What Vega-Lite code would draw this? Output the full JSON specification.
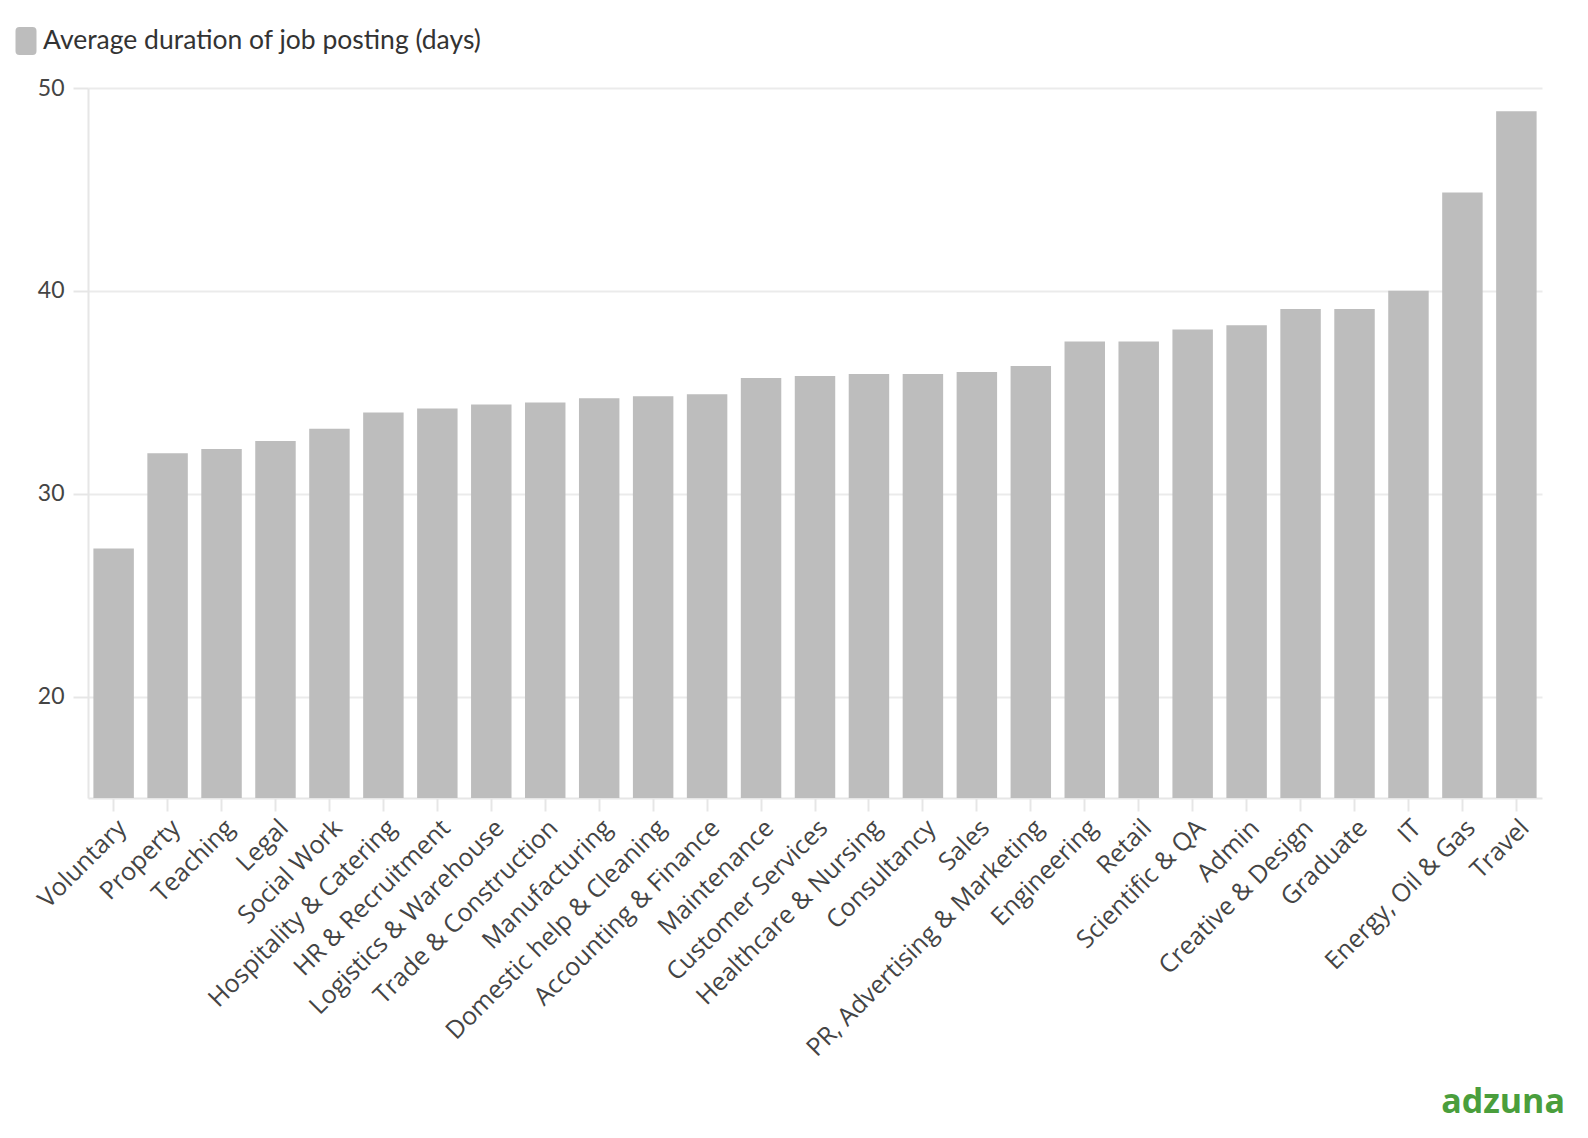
{
  "$schema": "https://vega.github.io/schema/vega-lite/v6.json",
  "autosize": {"type": "none"},
  "width": 1454,
  "height": 710,
  "padding": {"left": 88, "top": 88, "right": 46, "bottom": 340},
  "background": "#ffffff",
  "title": {
    "text": "adzuna",
    "orient": "bottom",
    "anchor": "end",
    "font": "Open Sans",
    "fontSize": 34,
    "fontWeight": "bold",
    "color": "#4a9e3c",
    "offset": 25,
    "dx": 23
  },
  "data": {
    "values": [
      {"category": "Voluntary", "days": 27.3},
      {"category": "Property", "days": 32.0},
      {"category": "Teaching", "days": 32.2},
      {"category": "Legal", "days": 32.6},
      {"category": "Social Work", "days": 33.2},
      {"category": "Hospitality & Catering", "days": 34.0},
      {"category": "HR & Recruitment", "days": 34.2},
      {"category": "Logistics & Warehouse", "days": 34.4},
      {"category": "Trade & Construction", "days": 34.5},
      {"category": "Manufacturing", "days": 34.7},
      {"category": "Domestic help & Cleaning", "days": 34.8},
      {"category": "Accounting & Finance", "days": 34.9},
      {"category": "Maintenance", "days": 35.7},
      {"category": "Customer Services", "days": 35.8},
      {"category": "Healthcare & Nursing", "days": 35.9},
      {"category": "Consultancy", "days": 35.9},
      {"category": "Sales", "days": 36.0},
      {"category": "PR, Advertising & Marketing", "days": 36.3},
      {"category": "Engineering", "days": 37.5},
      {"category": "Retail", "days": 37.5},
      {"category": "Scientific & QA", "days": 38.1},
      {"category": "Admin", "days": 38.3},
      {"category": "Creative & Design", "days": 39.1},
      {"category": "Graduate", "days": 39.1},
      {"category": "IT", "days": 40.0},
      {"category": "Energy, Oil & Gas", "days": 44.85},
      {"category": "Travel", "days": 48.85}
    ]
  },
  "mark": {"type": "bar", "clip": true},
  "encoding": {
    "x": {
      "field": "category",
      "type": "nominal",
      "sort": null,
      "scale": {"paddingInner": 0.25, "paddingOuter": 0.1},
      "axis": {
        "title": null,
        "labelAngle": -45,
        "labelFont": "Open Sans",
        "labelFontSize": 25,
        "labelColor": "#444444",
        "labelPadding": 4,
        "labelLimit": 0,
        "domainColor": "#e6e6e6",
        "domainWidth": 2,
        "tickColor": "#e6e6e6",
        "tickWidth": 2,
        "tickSize": 13,
        "grid": false
      }
    },
    "y": {
      "field": "days",
      "type": "quantitative",
      "scale": {"domain": [15, 50], "nice": false, "zero": false},
      "axis": {
        "title": null,
        "values": [20, 30, 40, 50],
        "labelFont": "Lato",
        "labelFontSize": 23,
        "labelColor": "#444444",
        "labelPadding": 9,
        "domainColor": "#e6e6e6",
        "domainWidth": 2,
        "tickColor": "#e6e6e6",
        "tickWidth": 2,
        "tickSize": 15,
        "gridColor": "#ebebeb",
        "gridWidth": 2
      }
    },
    "color": {
      "datum": "Average duration of job posting (days)",
      "type": "nominal",
      "scale": {"range": ["#bdbdbd"]},
      "legend": {
        "title": null,
        "orient": "none",
        "legendX": -76,
        "legendY": -61,
        "labelFont": "Lato",
        "labelFontSize": 26.5,
        "labelColor": "#333333",
        "labelOffset": 3,
        "labelLimit": 0,
        "symbolSize": 784,
        "symbolStrokeWidth": 0,
        "symbolOpacity": 1,
        "symbolType": "M -0.47 -1 L 0.47 -1 Q 0.75 -1 0.75 -0.72 L 0.75 0.72 Q 0.75 1 0.47 1 L -0.47 1 Q -0.75 1 -0.75 0.72 L -0.75 -0.72 Q -0.75 -1 -0.47 -1 Z"
      }
    }
  },
  "config": {
    "view": {"stroke": null}
  }
}
